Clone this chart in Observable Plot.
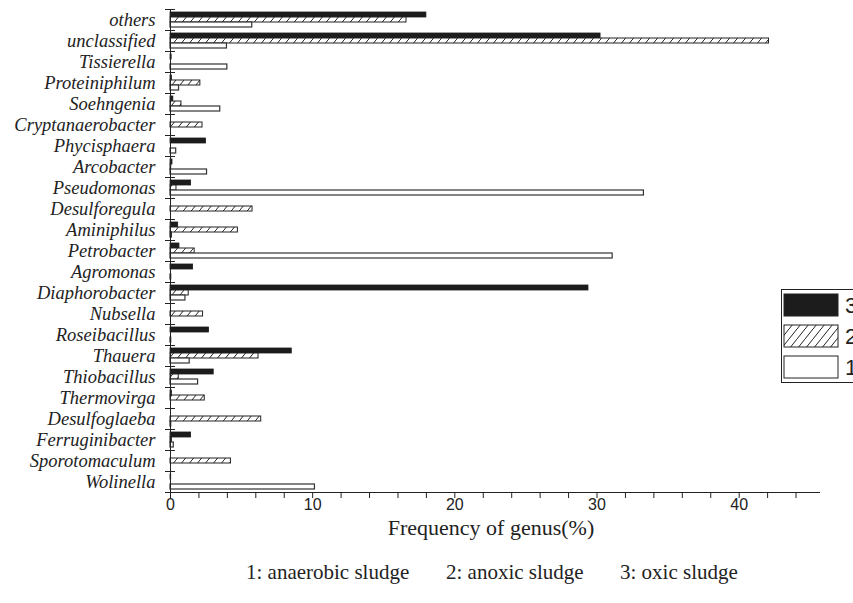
<!DOCTYPE html>
<html><head><meta charset="utf-8">
<script src="https://cdn.jsdelivr.net/npm/d3@7"></script>
<script src="https://cdn.jsdelivr.net/npm/@observablehq/plot@0.6"></script>
<style>
html,body{margin:0;padding:0;background:#fff;overflow:hidden;width:853px;height:603px}
#wrap{position:relative;width:853px;height:603px;overflow:hidden}
#wrap > svg.main{position:absolute;left:0;top:0}
#wrap > svg#legend{position:absolute;left:781px;top:289px}
.cap{position:absolute;top:560px;white-space:pre;font-family:"Liberation Serif",serif;font-size:21px;color:#222;line-height:24px}
</style></head><body><div id="wrap"></div>
<script>
// Categories, top to bottom
const genera = ["others","unclassified","Tissierella","Proteiniphilum","Soehngenia","Cryptanaerobacter","Phycisphaera","Arcobacter","Pseudomonas","Desulforegula","Aminiphilus","Petrobacter","Agromonas","Diaphorobacter","Nubsella","Roseibacillus","Thauera","Thiobacillus","Thermovirga","Desulfoglaeba","Ferruginibacter","Sporotomaculum","Wolinella"];
// Series 3: oxic sludge (black)
const oxic =      [18.0, 30.25, 0.08, 0.1, 0.2, 0, 2.5, 0.14, 1.45, 0, 0.54, 0.63, 1.59, 29.4, 0, 2.71, 8.53, 3.04, 0.1, 0, 1.45, 0, 0.05];
// Series 2: anoxic sludge (hatched)
const anoxic =    [16.6, 42.1, 0, 2.1, 0.77, 2.25, 0, 0.05, 0.42, 5.77, 4.74, 1.7, 0, 1.28, 2.29, 0, 6.19, 0.58, 2.41, 6.38, 0.1, 4.25, 0];
// Series 1: anaerobic sludge (white)
const anaerobic = [5.75, 3.97, 4.0, 0.6, 3.5, 0, 0.4, 2.57, 33.3, 0, 0.1, 31.1, 0.05, 1.05, 0, 0.05, 1.35, 1.94, 0, 0.05, 0.23, 0, 10.16];
const seriesKeys = ["3", "2", "1"];
const seriesNames = ["oxic sludge", "anoxic sludge", "anaerobic sludge"];
const xTicks = d3.range(0, 46, 2);
const xLabels = [0, 10, 20, 30, 40];
const xTitle = "Frequency of genus(%)";

const seriesValues = [oxic, anoxic, anaerobic];
const rows = [];
genera.forEach((g, i) => seriesKeys.forEach((s, j) => rows.push({genus: g, series: s, value: seriesValues[j][i]})));
const pick = s => rows.filter(d => d.series === s && d.value > 0);

const chart = Plot.plot({
  width: 853, height: 540,
  marginTop: 9, marginBottom: 48, marginLeft: 170, marginRight: 34,
  x: {domain: [0, 45.65]},
  y: {domain: genera, padding: 0},
  style: {background: "white", color: "#222", fontFamily: "Liberation Sans"},
  marks: [
    Plot.barX(pick("3"), {x: "value", y: "genus", insetTop: 3, insetBottom: 13, fill: "#1c1c1c", stroke: "#1c1c1c", strokeWidth: 0.8}),
    Plot.barX(pick("2"), {x: "value", y: "genus", insetTop: 8, insetBottom: 8, fill: "url(#hatch)", stroke: "#222", strokeWidth: 1}),
    Plot.barX(pick("1"), {x: "value", y: "genus", insetTop: 13, insetBottom: 3, fill: "white", stroke: "#333", strokeWidth: 1.2}),
    Plot.frame({anchor: "left", stroke: "#222"}),
    Plot.frame({anchor: "bottom", insetLeft: -5, stroke: "#222"}),
    Plot.axisY({tickSize: 0, tickPadding: 15, fontSize: 18.5, label: null, fill: "#222"}),
    Plot.axisY({tickSize: 10, dx: 5, dy: -10.5, text: null, label: null, stroke: "#222"}),
    Plot.axisX({ticks: xTicks, tickSize: 6, tickPadding: 0, tickFormat: d => xLabels.includes(d) ? String(d) : "", fontSize: 16, label: null, stroke: "#222", fill: "#222"}),
    Plot.text([xTitle], {text: d => d, frameAnchor: "bottom", dy: 42, dx: -4, fontSize: 22, fontFamily: "Liberation Serif", fill: "#222"})
  ]
});
chart.classList.add("main");
d3.select(chart).selectAll('g[aria-label="y-axis tick label"]')
  .attr("font-family", "Liberation Serif").attr("font-style", "italic").attr("font-size", 18.5)
  .style("font-family", "'Liberation Serif'").style("font-style", "italic");

function addHatch(svgSel, id) {
  const p = svgSel.insert("defs", ":first-child").append("pattern")
    .attr("id", id).attr("patternUnits", "userSpaceOnUse").attr("width", 8).attr("height", 10);
  p.append("rect").attr("width", 8).attr("height", 10).attr("fill", "white");
  p.append("path").attr("d", "M-2,12.5L10,-2.5").attr("stroke", "#222").attr("stroke-width", 1);
}
addHatch(d3.select(chart), "hatch");
document.getElementById("wrap").appendChild(chart);

// Legend (clipped at right edge as in reference)
const lg = d3.select("#wrap").append("svg").attr("id", "legend").attr("width", 80).attr("height", 95);
addHatch(lg, "hatchL");
lg.append("rect").attr("x", 0.5).attr("y", 0.5).attr("width", 90).attr("height", 93).attr("fill", "white").attr("stroke", "#222");
const swFill = ["#1c1c1c", "url(#hatchL)", "white"];
seriesKeys.forEach((s, j) => {
  const y = 5 + j * 31;
  lg.append("rect").attr("x", 3).attr("y", y).attr("width", 54).attr("height", 22)
    .attr("fill", swFill[j]).attr("stroke", "#222").attr("stroke-width", 1);
  lg.append("text").attr("x", 64).attr("y", y + 11).attr("dy", "0.35em")
    .attr("font-family", "Liberation Sans").attr("font-size", 22).attr("fill", "#222").text(s);
});

// Caption: three entries "1: anaerobic sludge", "2: anoxic sludge", "3: oxic sludge"
const capLeft = [246, 446, 620];
seriesKeys.slice().reverse().forEach((s, j) => {
  d3.select("#wrap").append("div").attr("class", "cap").style("left", capLeft[j] + "px")
    .text(s + ": " + seriesNames.slice().reverse()[j]);
});
</script>
</body></html>
